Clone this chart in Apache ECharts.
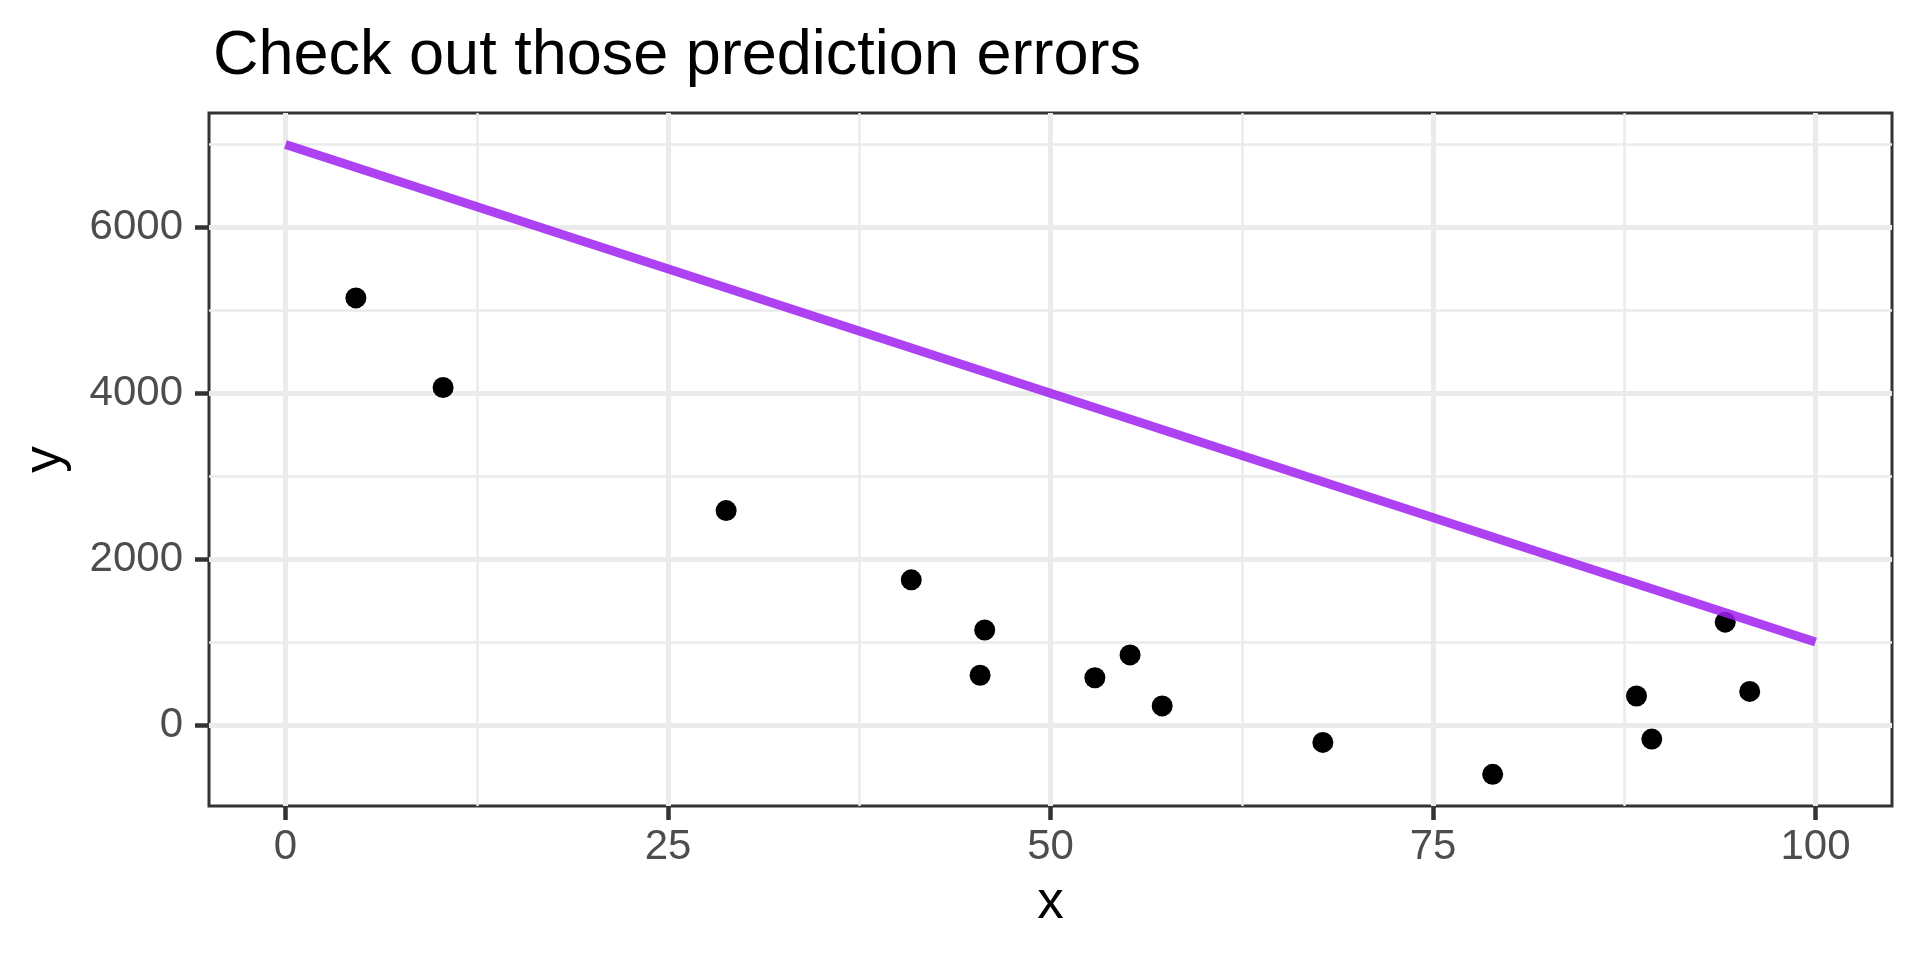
<!DOCTYPE html>
<html>
<head>
<meta charset="utf-8">
<script src="https://cdn.jsdelivr.net/npm/echarts@6/dist/echarts.min.js"></script>
<style>
  html, body { margin: 0; padding: 0; background: #fff; }
  #main { width: 1920px; height: 960px; }
</style>
</head>
<body>
<div id="main"></div>
<script>
// observed points
const xVals = [4.6, 10.3, 28.8, 40.9, 45.7, 45.4, 52.9, 55.2, 57.3, 67.8, 78.9, 88.3, 89.3, 94.1, 95.7];
const yVals = [5150, 4070, 2585, 1750, 1145, 600, 570, 845, 230, -210, -595, 350, -170, 1240, 405];

// the (bad) prediction line
const lineX = [0, 100];
const lineY = [7000, 1000];

// ticks / gridlines
const xMajor = [0, 25, 50, 75, 100];
const xMinor = [12.5, 37.5, 62.5, 87.5];
const yMajor = [0, 2000, 4000, 6000];
const yMinor = [1000, 3000, 5000, 7000];

const font = "'Liberation Sans', Arial, sans-serif";

const chart = echarts.init(document.getElementById('main'));

chart.setOption({
  animation: false,
  textStyle: { fontFamily: font },
  title: {
    text: 'Check out those prediction errors',
    left: 208,
    top: 20,
    textStyle: { fontSize: 63, fontWeight: 'normal', color: '#000', fontFamily: font }
  },
  grid: {
    left: 209, right: 28, top: 113, bottom: 154,
    show: true, borderColor: '#333333', borderWidth: 3, backgroundColor: '#fff'
  },
  xAxis: [
    {
      type: 'value', min: -5, max: 105,
      axisLine: { show: false, onZero: false },
      axisTick: { customValues: xMajor, length: 14, lineStyle: { color: '#333333', width: 4.5 } },
      axisLabel: {
        customValues: xMajor, fontSize: 42, color: '#4D4D4D', margin: 20, fontFamily: font,
        formatter: v => String(v)
      },
      splitLine: { show: true, lineStyle: { color: '#EBEBEB', width: 5 } },
      name: 'x', nameLocation: 'middle', nameGap: 71,
      nameTextStyle: { fontSize: 53, color: '#000', fontFamily: font }
    },
    {
      type: 'value', min: -5, max: 105,
      axisLine: { show: false, onZero: false },
      axisTick: { show: false, customValues: xMinor },
      axisLabel: { show: false },
      splitLine: { show: true, lineStyle: { color: '#EBEBEB', width: 2.5 } }
    }
  ],
  yAxis: [
    {
      type: 'value', min: -977, max: 7380,
      axisLine: { show: false, onZero: false },
      axisTick: { customValues: yMajor, length: 14, lineStyle: { color: '#333333', width: 4.5 } },
      axisLabel: {
        customValues: yMajor, fontSize: 42, color: '#4D4D4D', margin: 26, fontFamily: font,
        formatter: v => String(v)
      },
      splitLine: { show: true, lineStyle: { color: '#EBEBEB', width: 5 } },
      name: 'y', nameLocation: 'middle', nameGap: 137,
      nameTextStyle: { fontSize: 53, color: '#000', fontFamily: font }
    },
    {
      type: 'value', min: -977, max: 7380,
      axisLine: { show: false, onZero: false },
      axisTick: { show: false, customValues: yMinor },
      axisLabel: { show: false },
      splitLine: { show: true, lineStyle: { color: '#EBEBEB', width: 2.5 } }
    }
  ],
  series: [
    {
      type: 'scatter',
      data: xVals.map((x, i) => [x, yVals[i]]),
      symbolSize: 21,
      itemStyle: { color: '#000', opacity: 1 },
      z: 3
    },
    {
      type: 'line',
      data: lineX.map((x, i) => [x, lineY[i]]),
      showSymbol: false,
      symbol: 'none',
      lineStyle: { color: 'rgba(160, 32, 240, 0.85)', width: 9, cap: 'butt' },
      z: 4
    }
  ]
});
</script>
</body>
</html>
